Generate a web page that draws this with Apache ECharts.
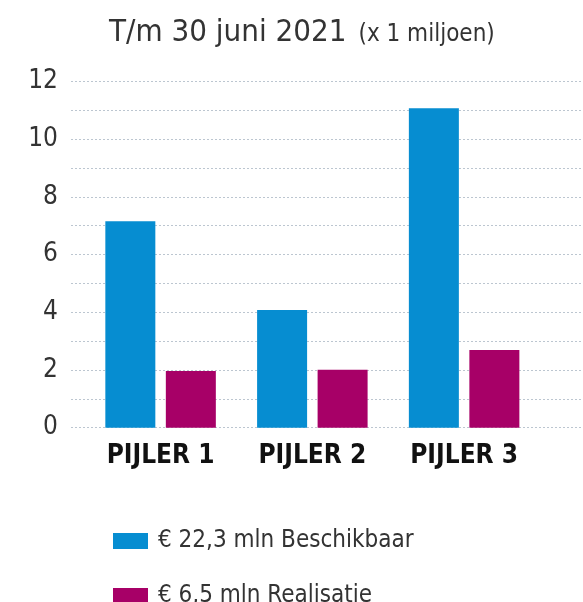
<!DOCTYPE html>
<html><head><meta charset="utf-8">
<script src="https://cdn.jsdelivr.net/npm/echarts@6/dist/echarts.min.js"></script>
<style>html,body{margin:0;padding:0;background:#fff}#c{width:583px;height:602px}</style>
</head><body><div id="c"></div>
<script>
const categories = ['PIJLER 1', 'PIJLER 2', 'PIJLER 3'];
const beschikbaar = [7.15, 4.08, 11.07];
const realisatie = [1.96, 2.01, 2.69];
const seriesNames = ['€ 22,3 mln Beschikbaar', '€ 6,5 mln Realisatie'];
const yTicks = [0, 2, 4, 6, 8, 10, 12];

const FONT = "'DejaVu Sans Condensed', 'DejaVu Sans', sans-serif";
const legendText = {fontFamily: FONT, fontSize: 24, color: '#333', padding: [0, 0, 0, 5]};
const chart = echarts.init(document.getElementById('c'), null, {renderer: 'canvas'});
chart.setOption({
  animation: false,
  title: {
    left: 104, top: 12,
    text: '{a|T/m 30 juni 2021}{b|(x 1 miljoen)}',
    textStyle: {
      rich: {
        a: {fontFamily: FONT, fontSize: 31, fontWeight: 'normal', color: '#333', padding: [0, 12, 0, 0]},
        b: {fontFamily: FONT, fontSize: 24, fontWeight: 'normal', color: '#333', padding: [4, 0, 0, 0]}
      }
    }
  },
  legend: [
    {left: 108, top: 524, itemWidth: 35, itemHeight: 16, icon: 'rect',
     textStyle: legendText, data: [seriesNames[0]]},
    {left: 108, top: 579, itemWidth: 35, itemHeight: 16, icon: 'rect',
     textStyle: legendText, data: [seriesNames[1]]}
  ],
  grid: [
    {left: 71, right: 0, top: 81.3, bottom: 174.3},
    {left: 84.7, right: 43, top: 81.3, bottom: 174.3}
  ],
  xAxis: [
    {gridIndex: 0, type: 'value', show: false},
    {gridIndex: 1, type: 'category', data: categories,
     axisLine: {show: false}, axisTick: {show: false},
     axisLabel: {fontFamily: FONT, fontSize: 26, fontWeight: 'bold', color: '#111', margin: 16}}
  ],
  yAxis: [
    {gridIndex: 0, type: 'value', min: 0, max: 12, interval: 2,
     axisLine: {show: false}, axisTick: {show: false},
     axisLabel: {fontFamily: FONT, fontSize: 26, color: '#333', margin: 13, padding: [4, 0, 0, 0],
       formatter: v => yTicks.includes(v) ? String(v) : ''},
     splitLine: {show: true, lineStyle: {color: '#bcc6d0', type: [2, 2], width: 1}},
     minorTick: {show: false, splitNumber: 2},
     minorSplitLine: {show: true, lineStyle: {color: '#bcc6d0', type: [2, 2], width: 1}}},
    {gridIndex: 1, type: 'value', min: 0, max: 12, show: false}
  ],
  series: [
    {name: seriesNames[0], type: 'bar', xAxisIndex: 1, yAxisIndex: 1, data: beschikbaar,
     barWidth: 50, barGap: '21%', itemStyle: {color: '#068dd1'}},
    {name: seriesNames[1], type: 'bar', xAxisIndex: 1, yAxisIndex: 1, data: realisatie,
     barWidth: 50, barGap: '21%', itemStyle: {color: '#a70067'}}
  ]
});
</script></body></html>
